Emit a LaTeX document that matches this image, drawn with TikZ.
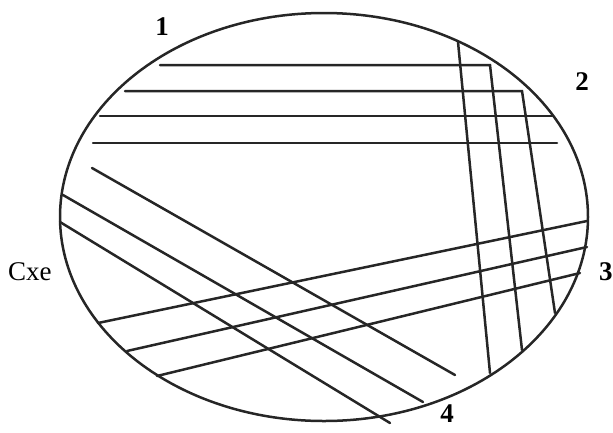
\documentclass[tikz,border=0pt]{standalone}
\usepackage{fontspec}
\setmainfont{Liberation Serif}
\begin{document}
\begin{tikzpicture}[x=1pt,y=-1pt,
  streak/.style={line width=2.5pt,line cap=round,black!85},
  rim/.style={line width=2.5pt,black!85},
  numlabel/.style={font=\fontsize{27}{27}\selectfont\bfseries,inner sep=0pt},
  sidetext/.style={font=\fontsize{27}{27}\selectfont,inner sep=0pt,anchor=base west}]
\useasboundingbox (0,0) rectangle (613,432);
% dish
\draw[rim] (324,217) ellipse [x radius=264, y radius=204];
% streak 1 (horizontal)
\draw[streak] (160,65) -- (490,65) -- (522,350);
\draw[streak] (125,91) -- (522,91) -- (555,313);
\draw[streak] (100,116) -- (552,116);
\draw[streak] (93,143) -- (557,143);
% streak 2 (nearly vertical)
\draw[streak] (458,42) -- (490,373);
% streak 3 (rising)
\draw[streak] (98,323) -- (587,221);
\draw[streak] (127,351) -- (587,247);
\draw[streak] (157,376) -- (580,273);
% streak 4 (falling)
\draw[streak] (92,168) -- (455,375);
\draw[streak] (63,195) -- (423,402);
\draw[streak] (60,222) -- (390,423);
% labels
\node[numlabel] (l1) at (162,27) {1};
\node[numlabel] (l2) at (582,82) {2};
\node[numlabel,anchor=west] (l3) at (599,272) {3};
\node[numlabel,anchor=south] (l4) at (447,423) {4};
\node[sidetext] (cxe) at (8,280) {Cxe};
\end{tikzpicture}
\end{document}
